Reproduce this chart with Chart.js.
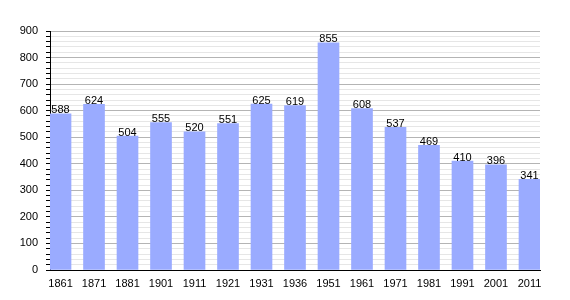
<!DOCTYPE html>
<html>
<head>
<meta charset="utf-8">
<script src="https://cdn.jsdelivr.net/npm/chart.js@4"></script>
<style>
  html, body { margin: 0; padding: 0; background: #fff; }
  #wrap { width: 570px; height: 300px; }
</style>
</head>
<body>
<div id="wrap"><canvas id="popChart" width="570" height="300"></canvas></div>
<script>
// population by census year
const years = ['1861', '1871', '1881', '1901', '1911', '1921', '1931', '1936',
  '1951', '1961', '1971', '1981', '1991', '2001', '2011'];
const population = [588, 624, 504, 555, 520, 551, 625, 619, 855, 608, 537, 469, 410, 396, 341];

// numbers on top of each bar
const valueLabels = {
  id: 'valueLabels',
  afterDatasetsDraw(chart) {
    const ctx = chart.ctx;
    const meta = chart.getDatasetMeta(0);
    ctx.save();
    ctx.font = '11px "Liberation Sans", Arial, sans-serif';
    ctx.fillStyle = '#000';
    ctx.textAlign = 'center';
    ctx.textBaseline = 'bottom';
    meta.data.forEach((bar, i) => {
      ctx.fillText(population[i], bar.x, bar.y + 2);
    });
    ctx.restore();
  }
};

new Chart(document.getElementById('popChart'), {
  type: 'bar',
  data: {
    datasets: [{
      data: population.map((v, i) => ({ x: i, y: v })),
      backgroundColor: '#9aabff',
      barThickness: 21
    }]
  },
  options: {
    responsive: false,
    animation: false,
    layout: { padding: { top: 31, right: 30, left: 0, bottom: 0 } },
    plugins: { legend: { display: false }, tooltip: { enabled: false } },
    scales: {
      x: {
        type: 'linear',
        offset: false,
        min: -0.3138,
        max: years.length - 1 + 0.3138,
        afterBuildTicks: (scale) => { scale.ticks = years.map((_, i) => ({ value: i })); },
        afterFit: (scale) => { scale.height = 30; },
        grid: { display: false, drawTicks: false },
        border: { display: true, color: '#000', width: 1 },
        ticks: {
          autoSkip: false,
          maxRotation: 0,
          padding: 7,
          color: '#000',
          font: { family: '"Liberation Sans", Arial, sans-serif', size: 11 },
          callback: (v) => years[v]
        }
      },
      y: {
        min: 0,
        max: 900,
        afterFit: (scale) => { scale.width = 50; },
        border: { display: true, color: '#000', width: 1 },
        grid: {
          color: (c) => (c.tick.value % 100 === 0 ? '#b4b4b4' : '#e6e6e6'),
          tickColor: '#000',
          tickLength: 4,
          lineWidth: 1
        },
        ticks: {
          stepSize: 20,
          padding: 8,
          autoSkip: false,
          color: '#000',
          font: { family: '"Liberation Sans", Arial, sans-serif', size: 11 },
          callback: (v) => (v % 100 === 0 ? v : '')
        }
      }
    }
  },
  plugins: [valueLabels]
});
</script>
</body>
</html>
